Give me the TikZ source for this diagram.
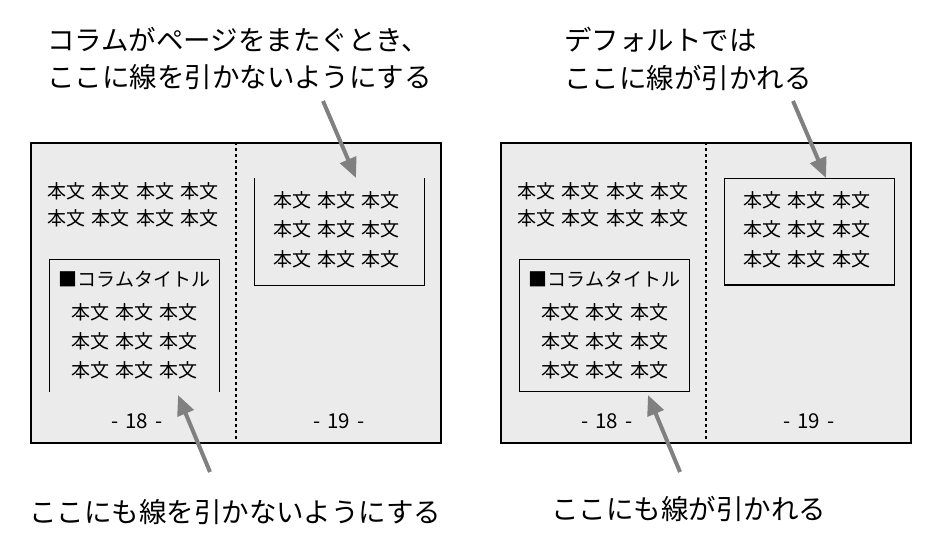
\documentclass[tikz,border=0pt]{standalone}
\usepackage{fontspec}
\setmainfont{Noto Sans CJK JP}
\usetikzlibrary{arrows.meta}
\definecolor{pagefill}{HTML}{EBEBEB}
\definecolor{arrowgray}{HTML}{808080}
\newcommand\hgap{\hspace{6.5pt}}
\newcommand\rowfour{本文\hgap 本文\hgap 本文\hgap 本文}
\newcommand\rowthree{本文\hgap 本文\hgap 本文}
\newcommand\pnum[1]{-\hspace{7pt}#1\hspace{7pt}-}
\tikzset{
  page/.style={draw=black, line width=1.3pt, fill=pagefill, minimum width=410pt, minimum height=300pt, inner sep=0pt},
  fold/.style={line width=2pt, dash pattern=on 3pt off 3pt},
  colbox/.style={inner sep=0pt, minimum width=170pt},
  boxline/.style={line width=1.2pt},
  body/.style={font=\fontsize{19}{22}\selectfont, inner sep=0pt},
  pagenum/.style={font=\fontsize{20.5}{24}\selectfont, inner sep=0pt},
  caption/.style={font=\fontsize{27.5}{32}\selectfont, inner sep=0pt, anchor=west},
  pointer/.style={draw=arrowgray, line width=4pt, -{Triangle[length=20pt,width=17pt]}},
}
\begin{document}
\begin{tikzpicture}[x=1pt,y=-1pt]
\useasboundingbox (0,0) rectangle (938,550);

% ---------------- left panel ----------------
\node[page] (pa) at (236,293) {};
\draw[fold] (pa.north) -- (pa.south);
\node[body] (a1) at (133,191) {\rowfour};
\node[body] (a2) at (133,218) {\rowfour};
\node[colbox, minimum height=132.4pt] (acb) at (134.3,325.5) {};
\draw[boxline] (acb.south west) -- (acb.north west) -- (acb.north east) -- (acb.south east);
\node[body] (at) at (134.5,279) {■コラムタイトル};
\node[body] (ac1) at (134.5,312) {\rowthree};
\node[body] (ac2) at (134.5,341) {\rowthree};
\node[body] (ac3) at (134.5,370) {\rowthree};
\node[colbox, minimum height=106.7pt] (arb) at (339.3,231.7) {};
\draw[boxline] (arb.north west) -- (arb.south west) -- (arb.south east) -- (arb.north east);
\node[body] (ar1) at (336.5,200) {\rowthree};
\node[body] (ar2) at (336.5,229.5) {\rowthree};
\node[body] (ar3) at (336.5,259) {\rowthree};
\node[pagenum] (ap18) at (137,421.5) {\pnum{18}};
\node[pagenum] (ap19) at (339,421.5) {\pnum{19}};
\node[caption] (acap1) at (47,40) {コラムがページをまたぐとき、};
\node[caption] (acap2) at (47,77) {ここに線を引かないようにする};
\node[caption] (acap3) at (29,512) {ここにも線を引かないようにする};
\coordinate (atopS) at (323,101);
\coordinate (atopT) at (356,178);
\coordinate (abotS) at (210,472);
\coordinate (abotT) at (178,395);
\draw[pointer] (atopS) -- (atopT);
\draw[pointer] (abotS) -- (abotT);

% ---------------- right panel ----------------
\node[page] (pb) at (706,293) {};
\draw[fold] (pb.north) -- (pb.south);
\node[body] (b1) at (603,191) {\rowfour};
\node[body] (b2) at (603,218) {\rowfour};
\node[colbox, minimum height=132.4pt, draw, boxline] (bcb) at (604.3,325.5) {};
\node[body] (bt) at (604.5,279) {■コラムタイトル};
\node[body] (bc1) at (604.5,312) {\rowthree};
\node[body] (bc2) at (604.5,341) {\rowthree};
\node[body] (bc3) at (604.5,370) {\rowthree};
\node[colbox, minimum height=106.7pt, draw, boxline] (brb) at (809.3,231.7) {};
\node[body] (br1) at (806.5,200) {\rowthree};
\node[body] (br2) at (806.5,229.5) {\rowthree};
\node[body] (br3) at (806.5,259) {\rowthree};
\node[pagenum] (bp18) at (607,421.5) {\pnum{18}};
\node[pagenum] (bp19) at (809,421.5) {\pnum{19}};
\node[caption] (bcap1) at (564,40) {デフォルトでは};
\node[caption] (bcap2) at (564,78) {ここに線が引かれる};
\node[caption] (bcap3) at (551,509) {ここにも線が引かれる};
\coordinate (btopS) at (793,101);
\coordinate (btopT) at (826,178);
\coordinate (bbotS) at (680,472);
\coordinate (bbotT) at (648,395);
\draw[pointer] (btopS) -- (btopT);
\draw[pointer] (bbotS) -- (bbotT);
\end{tikzpicture}
\end{document}
